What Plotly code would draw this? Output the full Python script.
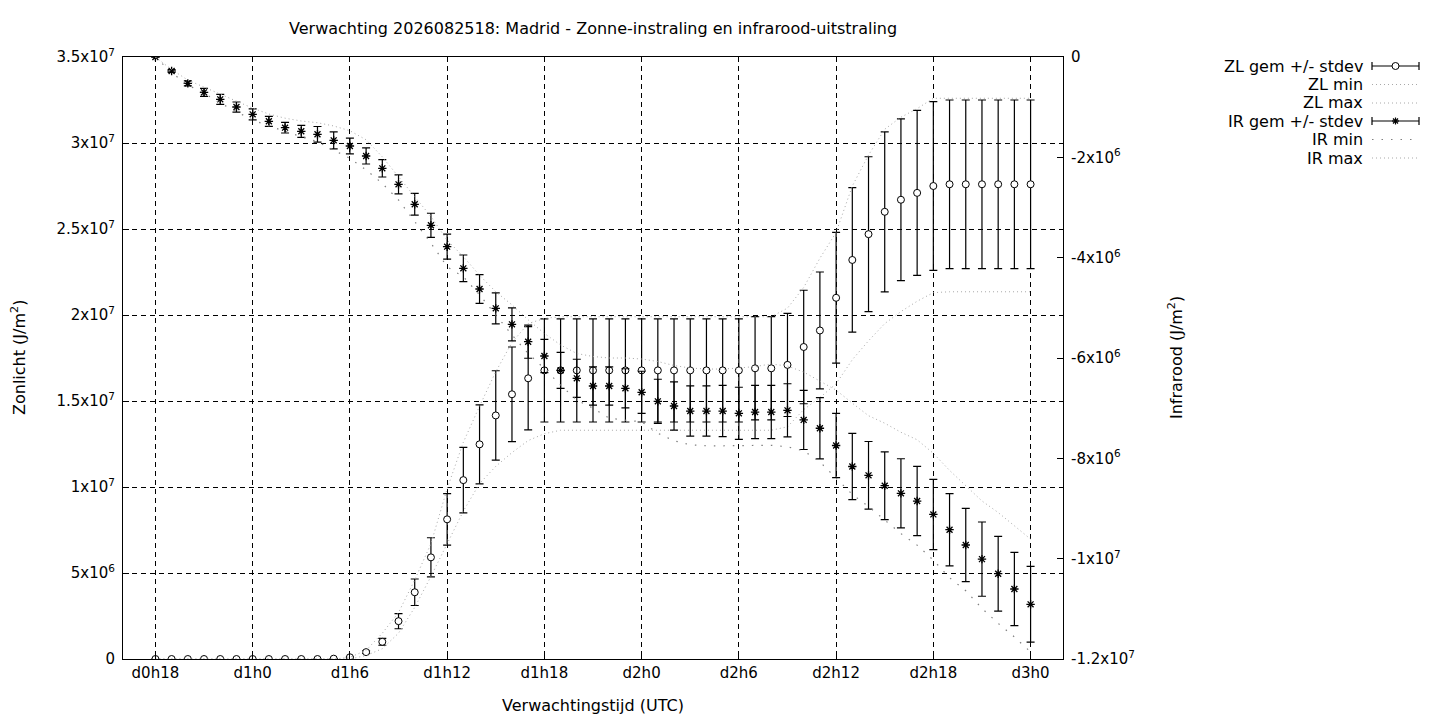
import plotly.graph_objects as go

# ---------------- data (hours since d0h0) ----------------
hours = [18, 19, 20, 21, 22, 23, 24, 25, 26, 27, 28, 29, 30, 31, 32, 33, 34, 35, 36,
         37, 38, 39, 40, 41, 42, 43, 44, 45, 46, 47, 48, 49, 50, 51, 52, 53, 54, 55,
         56, 57, 58, 59, 60, 61, 62, 63, 64, 65, 66, 67, 68, 69, 70, 71, 72]

zl_mean = [0, 0, 0, 0, 0, 0, 0, 0, 0, 0, 0, 2e4, 1e5, 4e5, 1.0e6, 2.2e6, 3.88e6, 5.91e6,
           8.12e6, 1.04e7, 1.248e7, 1.416e7, 1.539e7, 1.632e7, 1.678e7,
           1.678e7, 1.678e7, 1.678e7, 1.678e7, 1.678e7, 1.678e7, 1.678e7, 1.678e7,
           1.678e7, 1.678e7, 1.678e7, 1.678e7, 1.69e7, 1.69e7, 1.71e7,
           1.814e7, 1.91e7, 2.10e7, 2.32e7, 2.47e7, 2.60e7, 2.67e7, 2.71e7, 2.75e7,
           2.76e7, 2.76e7, 2.76e7, 2.76e7, 2.76e7, 2.76e7]

zl_std = [0, 0, 0, 0, 0, 0, 0, 0, 0, 0, 0, 1e4, 3e4, 8e4, 2e5, 4.4e5, 7.7e5, 1.14e6,
          1.5e6, 1.9e6, 2.3e6, 2.6e6, 2.75e6, 3.0e6, 3.0e6,
          3.0e6, 3.0e6, 3.0e6, 3.0e6, 3.0e6, 3.0e6, 3.0e6, 3.0e6,
          3.0e6, 3.0e6, 3.0e6, 3.0e6, 3.0e6, 3.0e6, 3.0e6,
          3.3e6, 3.4e6, 3.8e6, 4.2e6, 4.5e6, 4.65e6, 4.7e6, 4.8e6, 4.9e6,
          4.9e6, 4.9e6, 4.9e6, 4.9e6, 4.9e6, 4.9e6]

zl_min = [0, 0, 0, 0, 0, 0, 0, 0, 0, 0, 0, 0, 0, 2e5, 6e5, 1.5e6, 3.0e6, 4.8e6,
          6.7e6, 8.6e6, 1.02e7, 1.12e7, 1.2e7, 1.27e7, 1.31e7,
          1.33e7, 1.33e7, 1.33e7, 1.33e7, 1.33e7, 1.33e7, 1.33e7, 1.33e7,
          1.33e7, 1.33e7, 1.33e7, 1.33e7, 1.33e7, 1.33e7, 1.35e7,
          1.45e7, 1.52e7, 1.60e7, 1.74e7, 1.85e7, 1.95e7, 2.02e7, 2.08e7, 2.13e7,
          2.135e7, 2.135e7, 2.135e7, 2.135e7, 2.135e7, 2.135e7]

zl_max = [0, 0, 0, 0, 0, 0, 0, 0, 0, 0, 0, 0, 1e5, 5e5, 1.5e6, 2.7e6, 4.6e6, 6.7e6,
          9.9e6, 1.26e7, 1.47e7, 1.67e7, 1.84e7, 1.95e7, 1.98e7,
          1.99e7, 1.99e7, 1.99e7, 1.99e7, 1.99e7, 1.99e7, 1.99e7, 1.99e7,
          1.99e7, 1.99e7, 1.99e7, 1.99e7, 1.99e7, 1.99e7, 2.04e7,
          2.16e7, 2.33e7, 2.48e7, 2.75e7, 2.93e7, 3.08e7, 3.15e7, 3.20e7, 3.26e7,
          3.26e7, 3.26e7, 3.26e7, 3.26e7, 3.26e7, 3.26e7]

ir_mean = [0, -2.79e5, -5.25e5, -7.04e5, -8.44e5, -9.97e5, -1.143e6, -1.282e6, -1.409e6,
           -1.481e6, -1.541e6, -1.661e6, -1.774e6, -1.973e6, -2.219e6, -2.538e6, -2.936e6,
           -3.355e6, -3.781e6, -4.213e6, -4.625e6, -5.01e6, -5.329e6, -5.675e6, -5.96e6,
           -6.246e6, -6.405e6, -6.558e6, -6.558e6, -6.604e6, -6.684e6, -6.864e6, -6.957e6,
           -7.057e6, -7.057e6, -7.057e6, -7.103e6, -7.077e6, -7.077e6, -7.043e6,
           -7.234e6, -7.40e6, -7.744e6, -8.163e6, -8.339e6, -8.546e6, -8.698e6, -8.851e6,
           -9.118e6, -9.423e6, -9.728e6, -1.0009e7, -1.03e7, -1.0605e7, -1.091e7]

ir_std = [0, 3e4, 5e4, 8e4, 1e5, 1e5, 1.1e5, 1e5, 1.06e5, 1.2e5, 1.56e5, 1.7e5, 1.56e5,
          1.6e5, 1.73e5, 1.9e5, 2.16e5, 2.4e5, 2.5e5, 2.66e5, 2.86e5, 3.09e5, 3.3e5, 3.3e5,
          3.3e5, 3.6e5, 3.8e5, 3.8e5, 3.8e5, 3.9e5, 4.2e5, 4.4e5, 4.8e5,
          5.0e5, 5.0e5, 5.1e5, 5.2e5, 5.3e5, 5.3e5, 5.3e5,
          5.9e5, 6.1e5, 6.4e5, 6.6e5, 6.75e5, 6.75e5, 6.9e5, 6.9e5, 7.0e5,
          7.2e5, 7.3e5, 7.4e5, 7.45e5, 7.3e5, 7.55e5]

ir_min = [0, -3.1e5, -5.6e5, -7.2e5, -9.2e5, -1.09e6, -1.256e6, -1.375e6, -1.49e6,
          -1.59e6, -1.69e6, -1.85e6, -2.02e6, -2.25e6, -2.52e6, -2.85e6, -3.28e6,
          -3.71e6, -4.18e6, -4.38e6, -4.74e6, -5.14e6, -5.54e6, -5.91e6, -6.21e6,
          -6.54e6, -6.84e6, -7.0e6, -7.2e6, -7.24e6, -7.27e6, -7.5e6, -7.65e6,
          -7.73e6, -7.75e6, -7.75e6, -7.75e6, -7.74e6, -7.74e6, -7.77e6,
          -7.85e6, -8.07e6, -8.4e6, -8.72e6, -8.96e6, -9.23e6, -9.5e6, -9.73e6,
          -1.003e7, -1.038e7, -1.064e7, -1.099e7, -1.129e7, -1.156e7, -1.186e7]

ir_max = [0, -2.5e5, -4.6e5, -6.05e5, -7.4e5, -8.8e5, -1.02e6, -1.137e6, -1.22e6,
          -1.276e6, -1.31e6, -1.375e6, -1.47e6, -1.65e6, -1.99e6, -2.39e6, -2.78e6,
          -3.18e6, -3.65e6, -3.98e6, -4.35e6, -4.68e6, -4.94e6, -5.24e6, -5.51e6,
          -5.74e6, -5.91e6, -5.97e6, -6.0e6, -6.0e6, -6.02e6, -6.07e6, -6.15e6,
          -6.2e6, -6.22e6, -6.22e6, -6.2e6, -6.17e6, -6.12e6, -6.16e6,
          -6.28e6, -6.46e6, -6.64e6, -6.9e6, -7.15e6, -7.3e6, -7.48e6, -7.63e6,
          -7.9e6, -8.24e6, -8.55e6, -8.85e6, -9.08e6, -9.35e6, -9.61e6]

x_tick_vals = [18, 24, 30, 36, 42, 48, 54, 60, 66, 72]
x_tick_text = ["d0h18", "d1h0", "d1h6", "d1h12", "d1h18", "d2h0", "d2h6", "d2h12", "d2h18", "d3h0"]

y_tick_vals = [0, 5e6, 1e7, 1.5e7, 2e7, 2.5e7, 3e7, 3.5e7]
y_tick_text = ["0", "5x10<sup>6</sup>", "1x10<sup>7</sup>", "1.5x10<sup>7</sup>", "2x10<sup>7</sup>",
               "2.5x10<sup>7</sup>", "3x10<sup>7</sup>", "3.5x10<sup>7</sup>"]

y2_tick_vals = [0, -2e6, -4e6, -6e6, -8e6, -1e7, -1.2e7]
y2_tick_text = ["0", "-2x10<sup>6</sup>", "-4x10<sup>6</sup>", "-6x10<sup>6</sup>", "-8x10<sup>6</sup>",
                "-1x10<sup>7</sup>", "-1.2x10<sup>7</sup>"]

legend_labels = ["ZL gem +/- stdev", "ZL min", "ZL max", "IR gem +/- stdev", "IR min", "IR max"]

title_text = "Verwachting 2026082518: Madrid - Zonne-instraling en infrarood-uitstraling"

# ---------------- styling ----------------
FONT = "DejaVu Sans"
FS = 15      # tick labels
FS_T = 16    # titles / legend
OFF = 8      # page body margin of the browser
W, H = 1440 - 2 * OFF, 720 - OFF
# plot area in screen pixels of the reference
SL, SR, ST, SB = 123, 1063, 57, 659
L, R, T, B = SL - OFF, SR - OFF, ST - OFF, SB - OFF
FINE = "1px,3px"
SPARSE = "1.5px,8px"
LIGHT = "#a8a8a8"
DARK = "#808080"

fig = go.Figure()

# ZL
fig.add_trace(go.Scatter(x=hours, y=zl_mean, mode="markers",
                         marker=dict(symbol="circle", size=7, color="white",
                                     line=dict(color="black", width=1)),
                         error_y=dict(type="data", array=zl_std, visible=True,
                                      color="black", thickness=1.2, width=4),
                         showlegend=False))
fig.add_trace(go.Scatter(x=hours, y=zl_min, mode="lines",
                         line=dict(color=LIGHT, width=1, dash=FINE), showlegend=False))
fig.add_trace(go.Scatter(x=hours, y=zl_max, mode="lines",
                         line=dict(color=LIGHT, width=1, dash=FINE), showlegend=False))
# IR (right axis)
fig.add_trace(go.Scatter(x=hours, y=ir_mean, mode="markers", yaxis="y2",
                         marker=dict(symbol="asterisk-open", size=7, color="black",
                                     line=dict(color="black", width=1.3)),
                         error_y=dict(type="data", array=ir_std, visible=True,
                                      color="black", thickness=1.2, width=4),
                         showlegend=False))
fig.add_trace(go.Scatter(x=hours, y=ir_min, mode="lines", yaxis="y2",
                         line=dict(color=DARK, width=1.2, dash=SPARSE), showlegend=False))
fig.add_trace(go.Scatter(x=hours, y=ir_max, mode="lines", yaxis="y2",
                         line=dict(color=LIGHT, width=1, dash=FINE), showlegend=False))


def px(xp):
    """screen x (reference pixels) -> paper"""
    return (xp - SL) / (SR - SL)


def py(yp):
    """screen y (reference pixels) -> paper"""
    return (SB - yp) / (SB - ST)


shapes = []
annotations = []

# custom legend (text left, sample right, as in gnuplot)
rows = [66, 84.5, 103, 121, 139.5, 158]
sx0, sx1 = 1372, 1419
for i, (lab, yy) in enumerate(zip(legend_labels, rows)):
    annotations.append(dict(x=px(1365), y=py(yy), xref="paper", yref="paper",
                            text=lab, showarrow=False, xanchor="right", yanchor="middle",
                            font=dict(family=FONT, size=FS_T, color="black")))
    if i in (0, 3):
        shapes.append(dict(type="line", xref="paper", yref="paper",
                           x0=px(sx0), x1=px(sx1), y0=py(yy), y1=py(yy),
                           line=dict(color="black", width=1.2)))
        for cx in (sx0, sx1):
            shapes.append(dict(type="line", xref="paper", yref="paper",
                               x0=px(cx), x1=px(cx), y0=py(yy - 4), y1=py(yy + 4),
                               line=dict(color="black", width=1.2)))
        cx = (sx0 + sx1) / 2
        if i == 0:
            shapes.append(dict(type="circle", xref="paper", yref="paper",
                               x0=px(cx - 3.5), x1=px(cx + 3.5), y0=py(yy + 3.5), y1=py(yy - 3.5),
                               fillcolor="white", line=dict(color="black", width=1)))
        else:
            for dx, dy in ((3.5, 0), (0, 3.5), (2.5, 2.5), (2.5, -2.5)):
                shapes.append(dict(type="line", xref="paper", yref="paper",
                                   x0=px(cx - dx), x1=px(cx + dx), y0=py(yy - dy), y1=py(yy + dy),
                                   line=dict(color="black", width=1.2)))
    else:
        col, dash, wd = (DARK, SPARSE, 1.2) if i == 4 else (LIGHT, FINE, 1)
        shapes.append(dict(type="line", xref="paper", yref="paper",
                           x0=px(sx0), x1=px(sx1), y0=py(yy), y1=py(yy),
                           line=dict(color=col, width=wd, dash=dash)))

# titles
tfont = dict(family=FONT, size=FS_T, color="black")
annotations.append(dict(x=0.5, y=py(29), xref="paper", yref="paper", text=title_text,
                        showarrow=False, xanchor="center", yanchor="middle", font=tfont))
annotations.append(dict(x=0.5, y=py(705), xref="paper", yref="paper",
                        text="Verwachtingstijd (UTC)", showarrow=False,
                        xanchor="center", yanchor="middle", font=tfont))
annotations.append(dict(x=px(18), y=py(358), xref="paper", yref="paper",
                        text="Zonlicht (J/m<sup>2</sup>)", showarrow=False, textangle=-90,
                        xanchor="center", yanchor="middle", font=tfont))
annotations.append(dict(x=px(1175), y=py(358), xref="paper", yref="paper",
                        text="Infrarood (J/m<sup>2</sup>)", showarrow=False, textangle=-90,
                        xanchor="center", yanchor="middle", font=tfont))

axis_font = dict(family=FONT, size=FS, color="black")
fig.update_layout(
    width=W, height=H,
    margin=dict(l=L, r=W - R, t=T, b=H - B, pad=0),
    paper_bgcolor="white", plot_bgcolor="white",
    font=axis_font,
    showlegend=False,
    xaxis=dict(range=[16, 74], tickvals=x_tick_vals, ticktext=x_tick_text,
               showgrid=True, gridcolor="black", gridwidth=1, griddash="5px,4px",
               showline=True, linecolor="black", linewidth=1, mirror=True,
               ticks="inside", ticklen=6, tickcolor="black", zeroline=False,
               tickfont=axis_font),
    yaxis=dict(range=[0, 3.5e7], tickvals=y_tick_vals, ticktext=y_tick_text,
               showgrid=True, gridcolor="black", gridwidth=1, griddash="5px,4px",
               showline=True, linecolor="black", linewidth=1,
               ticks="inside", ticklen=6, tickcolor="black", zeroline=False,
               tickfont=axis_font, ticklabelstandoff=4),
    yaxis2=dict(range=[-1.2e7, 0], tickvals=y2_tick_vals, ticktext=y2_tick_text,
                overlaying="y", side="right", showgrid=False,
                showline=True, linecolor="black", linewidth=1,
                ticks="inside", ticklen=6, tickcolor="black", zeroline=False,
                tickfont=axis_font, ticklabelstandoff=4),
    shapes=shapes,
    annotations=annotations,
)

fig.write_html("out.html")
